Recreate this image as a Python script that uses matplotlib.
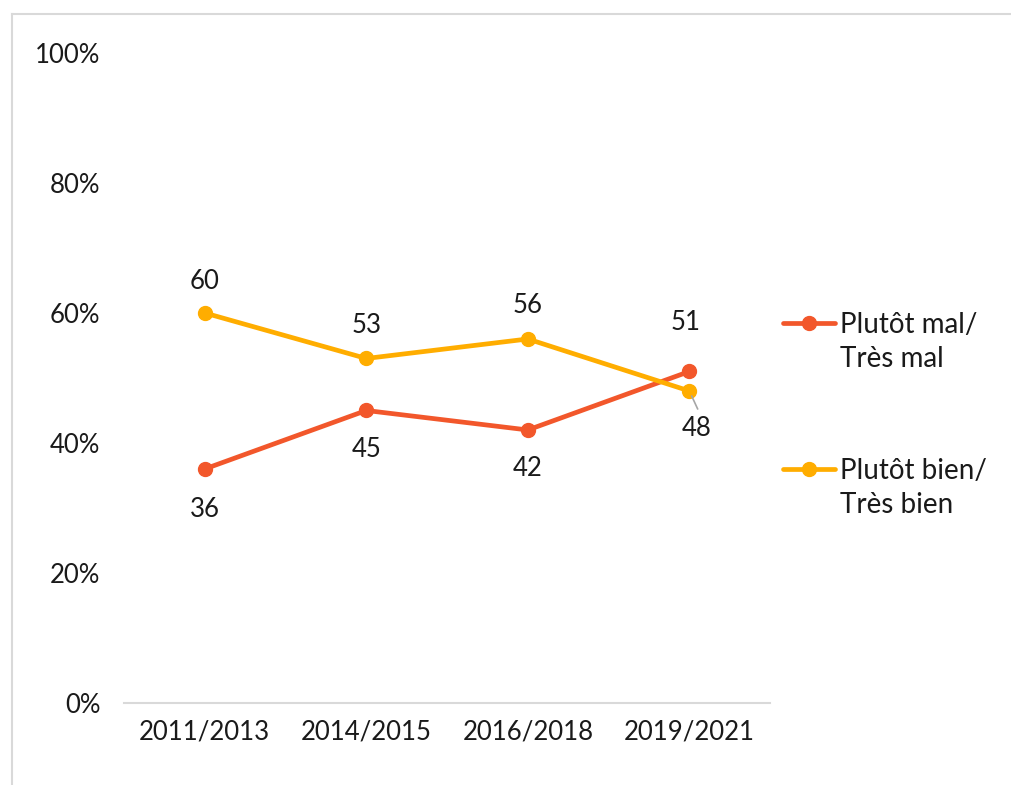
import matplotlib.pyplot as plt
from matplotlib.lines import Line2D

periods = ["2011/2013", "2014/2015", "2016/2018", "2019/2021"]
mal = [36, 45, 42, 51]
bien = [60, 53, 56, 48]
series_names = ["Plutôt mal/\nTrès mal", "Plutôt bien/\nTrès bien"]
yticks = [0, 20, 40, 60, 80, 100]

RED = "#F2572B"
GOLD = "#FFAD00"
TXT = "#1a1a1a"
FS = 18.5
LEG_FS = 20
FONT = ["Lato", "DejaVu Sans"]

plt.rcParams["font.family"] = FONT
W, H = 1012, 785
fig = plt.figure(figsize=(W / 100, H / 100), dpi=100)
ax = fig.add_axes([0.1225, 0.1045, 0.6385, 0.828])

x = [i + 0.5 for i in range(len(periods))]
ax.plot(x, mal, color=RED, lw=3.4, marker="o", ms=10, solid_capstyle="round", zorder=3)
ax.plot(x, bien, color=GOLD, lw=3.4, marker="o", ms=10, solid_capstyle="round", zorder=3)

ax.set_xlim(0, 4)
ax.set_ylim(0, 100)
ax.set_xticks(x)
ax.set_xticklabels(periods, fontsize=FS, color=TXT)
ax.set_yticks(yticks)
ax.set_yticklabels([f"{v}%" for v in yticks], fontsize=FS, color=TXT)
ax.tick_params(length=0, pad=17, axis="y")
ax.tick_params(length=0, pad=12, axis="x")
for s in ["top", "right", "left"]:
    ax.spines[s].set_visible(False)
ax.spines["bottom"].set_color("#d9d9d9")
ax.spines["bottom"].set_linewidth(1.5)

# data labels: offsets in points
mal_off = [(0, -29), (0, -28), (0, -28), (-3, 35)]
bien_off = [(0, 23), (0, 24), (0, 24), (5, -27)]
for xi, v, off in zip(x, mal, mal_off):
    ax.annotate(str(v), (xi, v), xytext=off, textcoords="offset points",
                ha="center", va="center", fontsize=FS, color=TXT)
for xi, v, off in zip(x, bien, bien_off):
    ax.annotate(str(v), (xi, v), xytext=off, textcoords="offset points",
                ha="center", va="center", fontsize=FS, color=TXT)
# leader line for the last label
ax.annotate("", (x[-1], bien[-1]), xytext=(6, -13), textcoords="offset points",
            arrowprops=dict(arrowstyle="-", color="#a6a6a6", lw=1.2,
                            shrinkA=0, shrinkB=4))

# legend drawn by hand: handle aligned with the first text line
legend_rows = [(RED, 323), (GOLD, 469)]
for (color, ypx), name in zip(legend_rows, series_names):
    yf = 1 - ypx / H
    fig.add_artist(Line2D([783 / W, 835 / W], [yf, yf], transform=fig.transFigure,
                          color=color, lw=3.4, solid_capstyle="round"))
    fig.add_artist(Line2D([809 / W], [yf], transform=fig.transFigure,
                          color=color, marker="o", ms=10))
    fig.text(840 / W, 1 - (ypx - 11) / H, name, ha="left", va="top",
             fontsize=LEG_FS, color=TXT, linespacing=1.4)

# outer frame lines
fig.add_artist(Line2D([12 / W, 12 / W], [0, 1 - 14 / H], transform=fig.transFigure,
                      color="#d9d9d9", lw=1.5))
fig.add_artist(Line2D([12 / W, 1], [1 - 14 / H, 1 - 14 / H], transform=fig.transFigure,
                      color="#d9d9d9", lw=1.5))

fig.savefig("out.png", dpi=100)
